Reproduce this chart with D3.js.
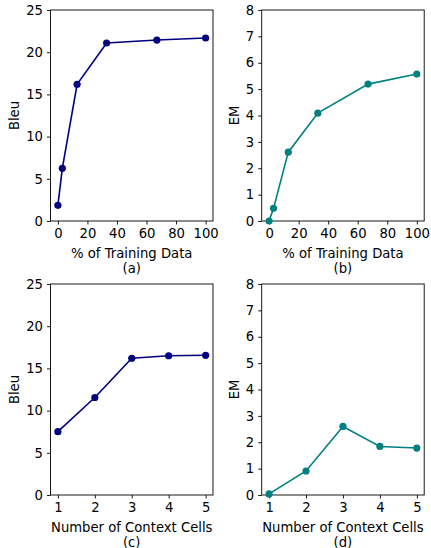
<!DOCTYPE html>
<html>
<head>
<meta charset="utf-8">
<script src="https://cdn.jsdelivr.net/npm/d3@7"></script>
<style>
  body { margin: 0; background: #fff; }
  svg text { font-family: "DejaVu Sans", sans-serif; fill: #000; }
</style>
</head>
<body>
<div class="canvas"></div>
<script>
// data
var trainPct = [0, 3, 13, 33, 67, 100]
var bleuTrain = [1.86, 6.24, 16.2, 21.09, 21.44, 21.68]
var emTrain = [0.0, 0.48, 2.61, 4.09, 5.19, 5.57]

var contextCells = [1, 2, 3, 4, 5]
var bleuContext = [7.5, 11.55, 16.2, 16.5, 16.55]
var emContext = [0.04, 0.91, 2.6, 1.84, 1.78]

var pctTicks = [0, 20, 40, 60, 80, 100]
var bleuTicks = [0, 5, 10, 15, 20, 25]
var emTicks = [0, 1, 2, 3, 4, 5, 6, 7, 8]

var panels = [
  {x: trainPct, y: bleuTrain, xdom: [-5, 105], ydom: [0, 25], xticks: pctTicks, yticks: bleuTicks,
   xlabel: "% of Training Data", ylabel: "Bleu", tag: "(a)", color: "#000080", left: 50.5, top: 10, yoff: -32},
  {x: trainPct, y: emTrain, xdom: [-5, 105], ydom: [0, 8], xticks: pctTicks, yticks: emTicks,
   xlabel: "% of Training Data", ylabel: "EM", tag: "(b)", color: "#008080", left: 261.7, top: 10, yoff: -23.2},
  {x: contextCells, y: bleuContext, xdom: [0.8, 5.2], ydom: [0, 25], xticks: contextCells, yticks: bleuTicks,
   xlabel: "Number of Context Cells", ylabel: "Bleu", tag: "(c)", color: "#000080", left: 50.5, top: 284, yoff: -32},
  {x: contextCells, y: emContext, xdom: [0.8, 5.2], ydom: [0, 8], xticks: contextCells, yticks: emTicks,
   xlabel: "Number of Context Cells", ylabel: "EM", tag: "(d)", color: "#008080", left: 261.7, top: 284, yoff: -23.2}
]

var pw = 162.5, ph = 211
var fs = "13.2px"

var svg = d3.select(".canvas").append("svg")
    .attr("width", 431)
    .attr("height", 548)

panels.forEach(function(p) {
  var g = svg.append("g").attr("transform", "translate(" + p.left + "," + p.top + ")")
  var x = d3.scaleLinear().domain(p.xdom).range([0, pw])
  var y = d3.scaleLinear().domain(p.ydom).range([ph, 0])

  var xAxis = g.append("g")
      .attr("transform", "translate(0," + ph + ")")
      .call(d3.axisBottom(x).tickValues(p.xticks).tickSize(3.5).tickPadding(4).tickFormat(d3.format("d")))
  var yAxis = g.append("g")
      .call(d3.axisLeft(y).tickValues(p.yticks).tickSize(3.5).tickPadding(4).tickFormat(d3.format("d")))
  ;[xAxis, yAxis].forEach(function(a) {
    a.select(".domain").remove()
    a.selectAll("line").attr("stroke", "#000").attr("stroke-width", 0.9)
    a.selectAll("text").style("font-size", fs).attr("fill", "#000")
  })

  // frame
  g.append("rect")
      .attr("width", pw).attr("height", ph)
      .attr("fill", "none").attr("stroke", "#000").attr("stroke-width", 0.9)

  var pts = p.x.map(function(d, i) { return [d, p.y[i]] })
  g.append("path")
      .datum(pts)
      .attr("fill", "none")
      .attr("stroke", p.color)
      .attr("stroke-width", 1.6)
      .attr("d", d3.line().x(d => x(d[0])).y(d => y(d[1])))
  g.selectAll("circle")
      .data(pts)
      .enter()
      .append("circle")
      .attr("cx", d => x(d[0]))
      .attr("cy", d => y(d[1]))
      .attr("r", 3.6)
      .attr("fill", p.color)

  // two-line x label
  g.append("text")
      .attr("x", pw / 2).attr("y", ph + 37)
      .attr("text-anchor", "middle").style("font-size", fs)
      .text(p.xlabel)
  g.append("text")
      .attr("x", pw / 2).attr("y", ph + 51.5)
      .attr("text-anchor", "middle").style("font-size", fs)
      .text(p.tag)
  g.append("text")
      .attr("transform", "translate(" + p.yoff + "," + (ph / 2) + ") rotate(-90)")
      .attr("text-anchor", "middle").style("font-size", fs)
      .text(p.ylabel)
})
</script>
</body>
</html>
